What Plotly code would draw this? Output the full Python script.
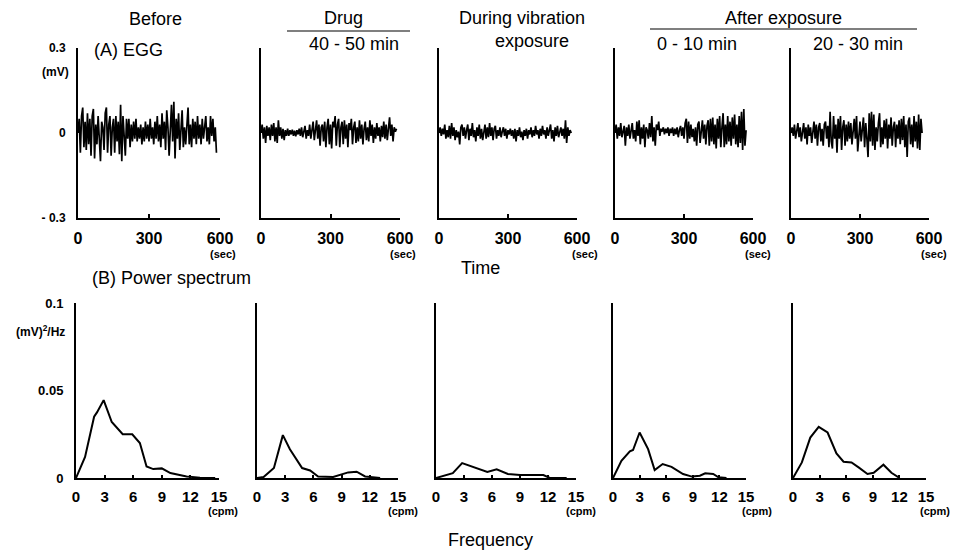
import plotly.graph_objects as go

W, H = 953, 555

# ---------------- DATA ----------------
panel_titles = ["Before", "Drug 40 - 50 min", "During vibration exposure",
                "After exposure 0 - 10 min", "After exposure 20 - 30 min"]

egg_step_sec = 5
egg_before = [0.0, 0.05, -0.07, 0.06, 0.09, -0.05, 0.04, -0.06, 0.07, -0.04,
              0.05, -0.08, 0.06, 0.085, -0.09, 0.03, -0.04, 0.06, -0.02, -0.10,
              0.04, 0.02, -0.06, 0.07, 0.09, -0.07, 0.03, 0.06, -0.08, 0.02,
              0.05, -0.07, 0.06, -0.03, 0.04, -0.075, 0.10, -0.10, 0.06, -0.02,
              -0.08, 0.05, -0.02, 0.05, -0.05, 0.03, -0.03, 0.04, -0.02, 0.05,
              -0.03, 0.02, -0.02, 0.03, -0.04, 0.02, -0.03, 0.04, -0.02, 0.03,
              -0.03, 0.05, -0.02, 0.02, -0.04, 0.04, -0.02, 0.06, -0.03, 0.03,
              -0.05, 0.07, -0.02, 0.04, -0.06, 0.08, 0.02, -0.08, 0.03, 0.10,
              -0.03, 0.11, -0.09, 0.05, -0.02, 0.07, -0.06, 0.03, 0.08, -0.05,
              0.02, -0.04, 0.05, 0.09, -0.04, 0.03, -0.05, 0.05, -0.02, 0.04,
              -0.04, 0.06, -0.02, 0.03, -0.04, 0.05, -0.02, 0.02, 0.06, -0.03,
              0.02, -0.04, 0.06, -0.01, 0.05, -0.03, 0.02, -0.07]
egg_drug = [0.0, 0.03, -0.02, 0.02, -0.035, 0.025, -0.01, 0.02, -0.025, 0.03,
            -0.01, 0.035, -0.03, 0.02, -0.035, 0.045, -0.01, 0.02, -0.02, 0.015,
            -0.025, 0.01, -0.01, 0.015, -0.01, 0.01, -0.005, 0.012, -0.01, 0.008,
            -0.012, 0.01, -0.005, 0.015, -0.01, 0.02, -0.015, 0.01, 0.025, -0.02,
            0.01, -0.01, 0.03, -0.02, 0.02, 0.04, -0.025, 0.01, 0.045, -0.02,
            0.03, -0.045, 0.02, 0.03, -0.03, 0.04, -0.05, 0.02, 0.05, -0.04,
            0.03, -0.055, 0.04, 0.02, 0.06, -0.045, 0.03, 0.05, -0.05, 0.02,
            0.04, -0.04, 0.045, -0.02, 0.03, -0.05, 0.035, 0.01, 0.05, -0.04,
            0.02, 0.04, -0.035, 0.02, -0.03, 0.045, -0.02, 0.03, -0.04, 0.015,
            0.04, -0.025, 0.02, -0.03, 0.045, -0.01, 0.03, -0.035, 0.02, -0.02,
            0.035, -0.01, 0.02, -0.03, 0.025, -0.015, 0.04, -0.02, 0.03, -0.025,
            0.01, 0.055, -0.01, 0.03, -0.03, 0.02, 0.005, 0.015]
egg_during = [0.0, 0.02, -0.01, 0.015, -0.005, 0.03, -0.02, 0.01, -0.015, 0.025,
              -0.02, 0.035, -0.01, 0.02, -0.025, 0.01, -0.015, 0.005, -0.04, 0.02,
              0.03, -0.01, 0.02, -0.02, 0.01, 0.03, -0.025, 0.015, -0.01, 0.035,
              -0.015, 0.01, -0.03, 0.02, -0.01, 0.03, -0.02, 0.015, -0.025, 0.01,
              0.03, -0.02, 0.02, -0.015, 0.035, -0.01, 0.02, -0.025, 0.015, 0.025,
              -0.02, 0.01, -0.01, 0.02, -0.015, 0.005, 0.02, -0.01, 0.015, -0.02,
              0.01, -0.005, 0.015, -0.01, 0.01, -0.02, 0.015, -0.03, 0.01, -0.01,
              0.02, -0.015, 0.005, -0.025, 0.01, -0.01, 0.015, -0.02, 0.01, -0.005,
              0.02, -0.015, 0.01, -0.01, 0.025, -0.005, 0.01, -0.02, 0.015, -0.01,
              0.025, -0.005, 0.01, -0.02, 0.02, -0.01, 0.015, 0.03, -0.02, 0.01,
              -0.03, 0.02, -0.01, 0.025, -0.015, 0.01, 0.02, -0.01, 0.015, -0.02,
              0.045, -0.035, 0.02, -0.01, 0.01, 0.0]
egg_after_0_10 = [0.0, 0.03, -0.02, 0.02, -0.01, 0.035, -0.015, 0.01, 0.025, -0.045,
                  0.02, -0.01, 0.03, -0.02, 0.015, 0.035, -0.02, 0.01, -0.03, 0.04,
                  -0.01, 0.045, -0.04, 0.02, -0.02, 0.03, -0.05, 0.02, 0.01, -0.02,
                  0.035, -0.015, 0.06, -0.03, 0.02, -0.045, 0.03, 0.01, 0.04, -0.01,
                  0.015, 0.005, 0.02, -0.005, 0.015, 0.0, 0.02, -0.01, 0.015, 0.0,
                  0.02, -0.01, 0.015, -0.005, 0.02, -0.015, 0.01, 0.025, -0.01, 0.02,
                  -0.02, 0.035, 0.05, -0.035, 0.04, -0.02, 0.03, -0.015, 0.015, -0.03,
                  0.02, -0.045, 0.03, 0.04, -0.035, 0.02, 0.045, -0.02, 0.03, -0.04,
                  0.025, 0.045, -0.045, 0.05, -0.03, 0.055, -0.04, 0.03, -0.055, 0.05,
                  -0.02, 0.06, -0.05, 0.02, 0.07, -0.05, 0.03, -0.04, 0.06, -0.03,
                  0.04, -0.045, 0.055, -0.02, 0.065, -0.04, 0.03, -0.05, 0.06, -0.035,
                  0.075, -0.06, 0.085, -0.045, 0.01]
egg_after_20_30 = [0.0, 0.02, -0.01, 0.03, -0.02, 0.01, 0.035, -0.015, 0.02, -0.03,
                   0.01, 0.035, -0.02, 0.02, -0.04, 0.03, -0.01, 0.02, -0.035, 0.01,
                   0.04, -0.02, 0.03, -0.045, 0.02, 0.035, -0.03, 0.015, -0.045, 0.03,
                   0.04, -0.02, 0.025, -0.05, 0.075, -0.03, -0.055, 0.06, -0.02, 0.03,
                   -0.07, 0.05, -0.02, 0.06, -0.06, 0.02, 0.045, -0.045, 0.03, -0.03,
                   0.04, -0.02, 0.035, -0.04, 0.025, 0.05, -0.02, 0.06, -0.065, 0.01,
                   0.04, -0.03, 0.02, 0.055, -0.05, 0.035, -0.02, -0.085, 0.07, -0.03,
                   0.075, -0.045, 0.065, -0.06, 0.02, -0.03, 0.035, 0.07, -0.05, 0.02,
                   -0.04, 0.045, -0.02, 0.05, -0.055, 0.03, -0.02, 0.055, -0.045, 0.02,
                   0.04, -0.05, 0.03, -0.02, 0.045, -0.04, 0.05, -0.025, 0.06, -0.05,
                   0.03, -0.085, 0.04, 0.055, -0.04, 0.03, -0.05, 0.06, -0.03, 0.04,
                   -0.055, 0.065, -0.06, 0.05, 0.0]
egg_series = [egg_before, egg_drug, egg_during, egg_after_0_10, egg_after_20_30]

# power spectra: frequency (cpm) and power ((mV)^2/Hz)
ps_before_f = [0, 0.95, 1.9, 2.2, 2.9, 3.75, 4.9, 5.9, 6.7, 7.4, 8.1, 9.0, 9.9, 11.6, 13.0, 14.6]
ps_before_p = [0, 0.012, 0.035, 0.0375, 0.0445, 0.032, 0.025, 0.025, 0.020, 0.0066, 0.0051,
               0.0055, 0.0028, 0.0009, 0.0002, 0.0]
ps_drug_f = [0, 0.7, 1.8, 2.75, 3.5, 4.8, 5.65, 6.5, 8.1, 9.7, 10.6, 11.5, 13.1]
ps_drug_p = [0, 0.0006, 0.0057, 0.0245, 0.0164, 0.0057, 0.0043, 0.0009, 0.0006, 0.0032,
             0.0036, 0.0009, 0.0]
ps_during_f = [0, 1.8, 2.8, 4.0, 5.5, 6.5, 7.7, 9.0, 11.5, 12.2, 14.0]
ps_during_p = [0, 0.0028, 0.0085, 0.0062, 0.0034, 0.005, 0.0023, 0.0017, 0.0017, 0.0, 0.0]
ps_after1_f = [0, 0.95, 1.9, 2.26, 3.0, 3.96, 4.7, 5.6, 6.6, 7.9, 8.9, 9.8, 10.4, 11.3, 11.9, 12.8]
ps_after1_p = [0, 0.0098, 0.0152, 0.016, 0.026, 0.0165, 0.0045, 0.008, 0.0064, 0.0023,
               0.0008, 0.0013, 0.0027, 0.0023, 0.0004, 0.0]
ps_after2_f = [0, 1.0, 1.95, 2.9, 3.9, 4.9, 5.7, 6.6, 7.4, 8.4, 9.1, 10.2, 11.1, 11.9]
ps_after2_p = [0, 0.0089, 0.0231, 0.0292, 0.026, 0.014, 0.0093, 0.0089, 0.0061, 0.0023,
               0.003, 0.0076, 0.003, 0.0004]
ps_f = [ps_before_f, ps_drug_f, ps_during_f, ps_after1_f, ps_after2_f]
ps_p = [ps_before_p, ps_drug_p, ps_during_p, ps_after1_p, ps_after2_p]

time_ticks = [0, 300, 600]
time_ticktext = ["0", "300", "600"]
egg_yticks = [-0.3, 0, 0.3]
egg_yticktext = ["- 0.3", "0", "0.3"]
freq_ticks = [0, 3, 6, 9, 12, 15]
freq_ticktext = ["0", "3", "6", "9", "12", "15"]
ps_yticks = [0, 0.05, 0.1]
ps_yticktext = ["0", "0.05", "0.1"]

# ---------------- LAYOUT (pixel geometry) ----------------
top_x = [(78, 220), (261, 400), (439, 577), (615, 753), (791, 929)]
top_y = (48, 218)
bot_x = [(76, 219), (257, 398), (436, 576), (613, 746), (793, 926)]
bot_y = (303, 478)

def dx(a, b):
    return [a / W, b / W]

def dy(a, b):
    return [1 - b / H, 1 - a / H]

FONT = "Liberation Sans, Arial, Helvetica, sans-serif"
fig = go.Figure()
layout = dict(width=W, height=H, margin=dict(l=0, r=0, t=0, b=0, autoexpand=False),
              paper_bgcolor="white", plot_bgcolor="white", showlegend=False,
              font=dict(family=FONT, color="black"))

for i in range(5):
    # EGG
    n = 2 * i + 1
    xa, ya = f"x{n}", f"y{n}"
    t = [k * egg_step_sec for k in range(len(egg_series[i]))]
    fig.add_trace(go.Scatter(x=t, y=egg_series[i], mode="lines", xaxis=xa, yaxis=ya,
                             line=dict(color="black", width=1.7)))
    layout[f"xaxis{n}"] = dict(domain=dx(*top_x[i]), range=[0, 600], anchor=ya,
                               automargin=False,
                               showline=True, linecolor="black", linewidth=2,
                               showgrid=False, zeroline=False, ticks="inside",
                               ticklen=4, tickwidth=1.5, tickcolor="black",
                               tickvals=time_ticks,
                               ticktext=[f"<b>{s}</b>" for s in time_ticktext],
                               tickfont=dict(size=16, family=FONT),
                               ticklabelstandoff=5)
    ydict = dict(domain=dy(*top_y), range=[-0.3, 0.3], anchor=xa, automargin=False,
                 showline=True, linecolor="black", linewidth=2,
                 showgrid=False, zeroline=False)
    if i == 0:
        ydict.update(tickvals=egg_yticks,
                     ticktext=[f"<b>{s}</b>" for s in egg_yticktext],
                     tickfont=dict(size=12, family=FONT), ticklabelstandoff=8)
    else:
        ydict.update(showticklabels=False)
    layout[f"yaxis{n}"] = ydict
    # power spectrum
    m = 2 * i + 2
    xb, yb = f"x{m}", f"y{m}"
    fig.add_trace(go.Scatter(x=ps_f[i], y=ps_p[i], mode="lines", xaxis=xb, yaxis=yb,
                             line=dict(color="black", width=2)))
    layout[f"xaxis{m}"] = dict(domain=dx(*bot_x[i]), range=[0, 15], anchor=yb,
                               automargin=False,
                               showline=True, linecolor="black", linewidth=2,
                               showgrid=False, zeroline=False, ticks="inside",
                               ticklen=3, tickwidth=1.5, tickcolor="black",
                               tickvals=freq_ticks,
                               ticktext=[f"<b>{s}</b>" for s in freq_ticktext],
                               tickfont=dict(size=15, family=FONT),
                               ticklabelstandoff=4)
    ydict = dict(domain=dy(*bot_y), range=[0, 0.1], anchor=xb, automargin=False,
                 showline=True, linecolor="black", linewidth=2,
                 showgrid=False, zeroline=False)
    if i == 0:
        ydict.update(tickvals=ps_yticks,
                     ticktext=[f"<b>{s}</b>" for s in ps_yticktext],
                     tickfont=dict(size=13, family=FONT), ticklabelstandoff=8)
    else:
        ydict.update(showticklabels=False)
    layout[f"yaxis{m}"] = ydict

fig.update_layout(**layout)

def ann(text, x, y, size=18, xanchor="center", bold=False):
    fig.add_annotation(text=f"<b>{text}</b>" if bold else text, x=x / W, y=1 - y / H,
                       xref="paper", yref="paper", showarrow=False,
                       xanchor=xanchor, yanchor="middle",
                       font=dict(size=size, family=FONT, color="black"))

# column headers
ann("Before", 155, 19)
ann("Drug", 343, 18)
ann("40 - 50 min", 354, 44)
ann("During vibration", 522, 18)
ann("exposure", 532, 41)
ann("After exposure", 783, 18)
ann("0 - 10 min", 697, 44)
ann("20 - 30 min", 858, 44)
for (x0, x1, y) in [(287, 410, 31), (650, 917, 29)]:
    fig.add_shape(type="line", xref="paper", yref="paper", x0=x0 / W, x1=x1 / W,
                  y0=1 - y / H, y1=1 - y / H, line=dict(color="black", width=1.2))

ann("(A) EGG", 92, 50, xanchor="left")
ann("(mV)", 55, 72, 12, bold=True)
ann("Time", 481, 268)
ann("(B) Power spectrum", 90, 278, xanchor="left")
ann("(mV)<sup>2</sup>/Hz", 40, 331, 12, bold=True)
ann("Frequency", 490, 540)

for xc in [223, 403, 585, 758, 934]:
    ann("(sec)", xc, 254, 11, bold=True)
for xc in [223, 403, 581, 757, 935]:
    ann("(cpm)", xc, 511, 11, bold=True)

fig.write_html("out.html", config={"displayModeBar": False})

# remove the default page margin so the 953x555 figure fills the window exactly
with open("out.html", "r", encoding="utf-8") as fh:
    html = fh.read()
html = html.replace("<head>", "<head><style>html,body{margin:0;padding:0;overflow:hidden;}</style>", 1)
with open("out.html", "w", encoding="utf-8") as fh:
    fh.write(html)
